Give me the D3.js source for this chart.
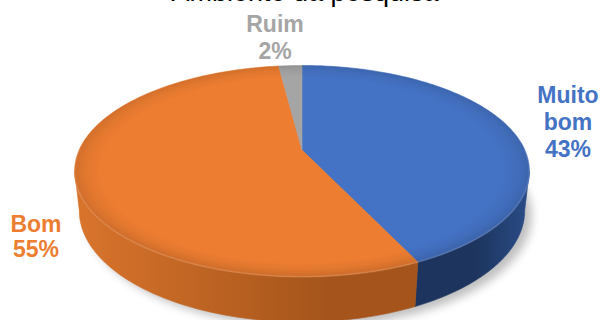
<!DOCTYPE html>
<html>
<head>
<meta charset="utf-8">
<script src="https://cdn.jsdelivr.net/npm/d3@7"></script>
<style>
  html, body { margin: 0; padding: 0; background: #ffffff; }
  svg { display: block; }
</style>
</head>
<body>
<svg id="chart" width="600" height="320"></svg>
<script>
// ---- data ----
const title = "Ambiente da pesquisa";
const categories = ["Muito bom", "Bom", "Ruim"];
const values = [43, 55, 2];
const labelLines = [["Muito", "bom", "43%"], ["Bom", "55%"], ["Ruim", "2%"]];
const topColors = ["#4472C4", "#ED7D31", "#A5A5A5"];
const sideDark = ["#1d355e", "#a5551b", "#6f6f6f"];
const sideLight = ["#2a4c88", "#d9742c", "#8a8a8a"];

const svg = d3.select("#chart");
const defs = svg.append("defs");

// ---- perspective projection of a 3D disc ----
const cx0 = 302, cy0 = 150;
const sinA = 0.455, cosA = Math.sqrt(1 - sinA * sinA);
const D = 4.46, F = 994;
const H = 0.2; // thickness (radius units)
function proj(theta, Y) {
  const X = Math.sin(theta), Z = Math.cos(theta);
  const depth = D - Y * sinA + Z * cosA;
  const ys = Y * cosA + Z * sinA;
  return [cx0 + F * X / depth, cy0 - F * ys / depth];
}
function projCenter(Y) {
  const depth = D - Y * sinA;
  return [cx0, cy0 - F * (Y * cosA) / depth];
}
function arcPts(a0, a1, Y) {
  const n = Math.max(2, Math.ceil(Math.abs(a1 - a0) / (Math.PI / 180)));
  return d3.range(n + 1).map(i => proj(a0 + (a1 - a0) * i / n, Y));
}
const line = d3.line();

const pie = d3.pie().sort(null).value(d => d).startAngle(0).endAngle(2 * Math.PI);
const arcs = pie(values);

// visible range of the outer wall
const dGround = D * cosA;
const vis0 = Math.acos(-1 / dGround) - 0.06;
const vis1 = 2 * Math.PI - vis0;

// ---- shadow ----
const shadowF = defs.append("filter").attr("id", "shadow")
  .attr("x", "-20%").attr("y", "-20%").attr("width", "140%").attr("height", "140%");
shadowF.append("feGaussianBlur").attr("stdDeviation", 5);

const outline = arcPts(0, 2 * Math.PI, -H);
svg.append("path")
  .attr("d", line(outline) + "Z")
  .attr("transform", "translate(7,5)")
  .attr("fill", "#000")
  .attr("opacity", 0.25)
  .attr("filter", "url(#shadow)");

// ---- wall gradients ----
arcs.forEach((a, i) => {
  const g = defs.append("linearGradient").attr("id", "wall" + i)
    .attr("gradientUnits", "userSpaceOnUse")
    .attr("x1", 75).attr("x2", 530).attr("y1", 0).attr("y2", 0);
  g.append("stop").attr("offset", "0%").attr("stop-color", sideLight[i]);
  g.append("stop").attr("offset", "55%").attr("stop-color", sideDark[i]);
  g.append("stop").attr("offset", "88%").attr("stop-color", sideDark[i]);
  g.append("stop").attr("offset", "100%").attr("stop-color", sideLight[i]);
});

// ---- outer walls ----
arcs.forEach((a, i) => {
  const s = Math.max(a.startAngle, vis0), e = Math.min(a.endAngle, vis1);
  if (e <= s) return;
  const topPts = arcPts(s, e, 0);
  const botPts = arcPts(e, s, -H);
  svg.append("path")
    .attr("d", line(topPts.concat(botPts)) + "Z")
    .attr("fill", `url(#wall${i})`)
    .attr("stroke", `url(#wall${i})`)
    .attr("stroke-width", 0.6);
});

// ---- top faces ----
arcs.forEach((a, i) => {
  const pts = [projCenter(0)].concat(arcPts(a.startAngle, a.endAngle, 0));
  svg.append("path")
    .attr("d", line(pts) + "Z")
    .attr("fill", topColors[i])
    .attr("stroke", topColors[i])
    .attr("stroke-width", 0.6);
});

// bevel: subtle shading along the rim
const rg = defs.append("radialGradient").attr("id", "rim")
  .attr("gradientUnits", "userSpaceOnUse")
  .attr("cx", cx0).attr("cy", 170).attr("r", 228)
  .attr("gradientTransform", `translate(${cx0},170) scale(1,${105 / 228}) translate(${-cx0},-170)`);
rg.append("stop").attr("offset", "88%").attr("stop-color", "#000").attr("stop-opacity", 0);
rg.append("stop").attr("offset", "95%").attr("stop-color", "#000").attr("stop-opacity", 0.05);
rg.append("stop").attr("offset", "100%").attr("stop-color", "#000").attr("stop-opacity", 0.12);
svg.append("path")
  .attr("d", line(arcPts(0, 2 * Math.PI, 0)) + "Z")
  .attr("fill", "url(#rim)");
// soft highlight along the front edge
svg.append("path")
  .attr("d", line(arcPts(vis0 - 0.2, vis1 + 0.2, 0)))
  .attr("fill", "none")
  .attr("stroke", "#fff")
  .attr("stroke-opacity", 0.1)
  .attr("stroke-width", 2);

// ---- title (clipped at top, as in the reference) ----
svg.append("text")
  .attr("x", 305).attr("y", 1)
  .attr("text-anchor", "middle")
  .attr("font-family", "Liberation Sans, Arial, sans-serif")
  .attr("font-size", 27)
  .attr("fill", "#000")
  .text(title);

// ---- labels ----
const labelPos = [[568, 103], [36, 232], [275, 32]];
const lineGap = [27, 25, 27];
labelLines.forEach((lines, i) => {
  const t = svg.append("text")
    .attr("text-anchor", "middle")
    .attr("font-family", "Liberation Sans, Arial, sans-serif")
    .attr("font-weight", "bold")
    .attr("font-size", 23)
    .attr("fill", topColors[i]);
  lines.forEach((l, j) => {
    t.append("tspan")
      .attr("x", labelPos[i][0])
      .attr("y", labelPos[i][1] + j * lineGap[i])
      .text(l);
  });
});
</script>
</body>
</html>
